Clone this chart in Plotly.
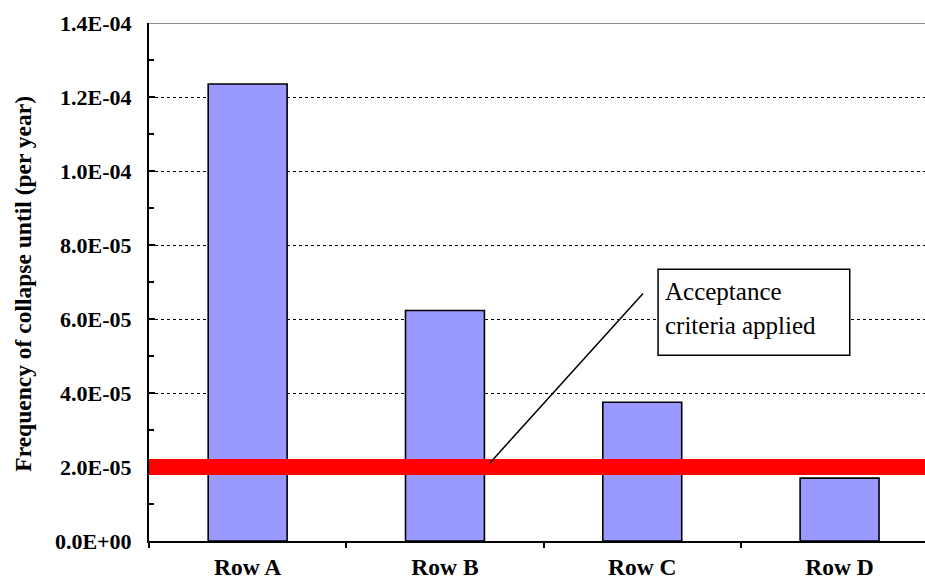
import plotly.graph_objects as go

# Collapse frequency per row (per year)
rows = ["Row A", "Row B", "Row C", "Row D"]
frequency = [1.235e-4, 6.23e-5, 3.75e-5, 1.70e-5]

# Acceptance criterion (per year)
acceptance_limit = 2.0e-5

# Y axis ticks
y_ticks = [0.0, 2e-5, 4e-5, 6e-5, 8e-5, 1.0e-4, 1.2e-4, 1.4e-4]
y_tick_text = ["{:.1E}".format(v) for v in y_ticks]

SERIF = "Liberation Serif, Times New Roman, serif"

fig = go.Figure()
fig.add_trace(go.Bar(
    x=rows,
    y=frequency,
    width=0.40,
    marker=dict(color="#9999FF", line=dict(color="black", width=1.6)),
    hoverinfo="x+y",
))

# Thick red limit line across the plot area
fig.add_shape(type="line", xref="paper", yref="y",
              x0=0, x1=1, y0=acceptance_limit, y1=acceptance_limit,
              line=dict(color="#FF0000", width=16), layer="above")

# Grey top border of the plot area
fig.add_shape(type="line", xref="paper", yref="y",
              x0=0, x1=1, y0=y_ticks[-1], y1=y_ticks[-1],
              line=dict(color="#8c8c8c", width=2), layer="above")

# Callout box and leader line
fig.add_shape(type="rect", xref="paper", yref="paper",
              x0=0.656, x1=0.903, y0=0.3585, y1=0.5245,
              line=dict(color="black", width=1.5), fillcolor="white", layer="above")
fig.add_shape(type="line", xref="x", yref="y",
              x0=1.228, y0=2.11e-5, x1=2.004, y1=6.69e-5,
              line=dict(color="black", width=1.5), layer="above")

callout_font = dict(family=SERIF, size=25, color="black")
fig.add_annotation(text="Acceptance", xref="paper", yref="paper",
                   x=0.6624, y=0.481, xanchor="left", yanchor="middle",
                   showarrow=False, font=callout_font)
fig.add_annotation(text="criteria applied", xref="paper", yref="paper",
                   x=0.6624, y=0.4155, xanchor="left", yanchor="middle",
                   showarrow=False, font=callout_font)

# Y axis title
fig.add_annotation(text="<b>Frequency of collapse until (per year)</b>",
                   xref="paper", yref="paper", x=-0.1635, y=0.497,
                   xanchor="center", yanchor="middle", textangle=-90,
                   showarrow=False,
                   font=dict(family=SERIF, size=23.5, color="black"))

fig.update_layout(
    width=925, height=581,
    margin=dict(l=149, r=0, t=23, b=40),
    paper_bgcolor="white", plot_bgcolor="white",
    showlegend=False,
    bargap=0.6,
    font=dict(family=SERIF, color="black"),
)

fig.update_xaxes(
    type="category",
    range=[-0.5, 3.433],
    showline=True, linecolor="black", linewidth=2,
    ticks="outside", tickson="boundaries", ticklen=5, tickwidth=1.5, tickcolor="black",
    tickfont=dict(family=SERIF, size=23.5, color="black"),
    ticktext=["<b>%s</b>" % r for r in rows], tickvals=rows,
    ticklabelstandoff=4,
    showgrid=False, zeroline=False, fixedrange=True,
)

fig.update_yaxes(
    range=[0, 1.4e-4],
    tickmode="array", tickvals=y_ticks,
    ticktext=["<b>%s</b>" % t for t in y_tick_text],
    tickfont=dict(family=SERIF, size=22, color="black"),
    showline=True, linecolor="black", linewidth=2,
    ticks="inside", ticklen=6, tickwidth=1.5, tickcolor="black",
    ticklabelstandoff=11,
    minor=dict(tickmode="linear", tick0=0, dtick=1e-5, ticks="inside",
               ticklen=5, tickwidth=1.5, tickcolor="black", showgrid=False),
    showgrid=True, gridcolor="black", gridwidth=1, griddash="dot",
    zeroline=False, fixedrange=True,
)

fig.write_html("out.html")
